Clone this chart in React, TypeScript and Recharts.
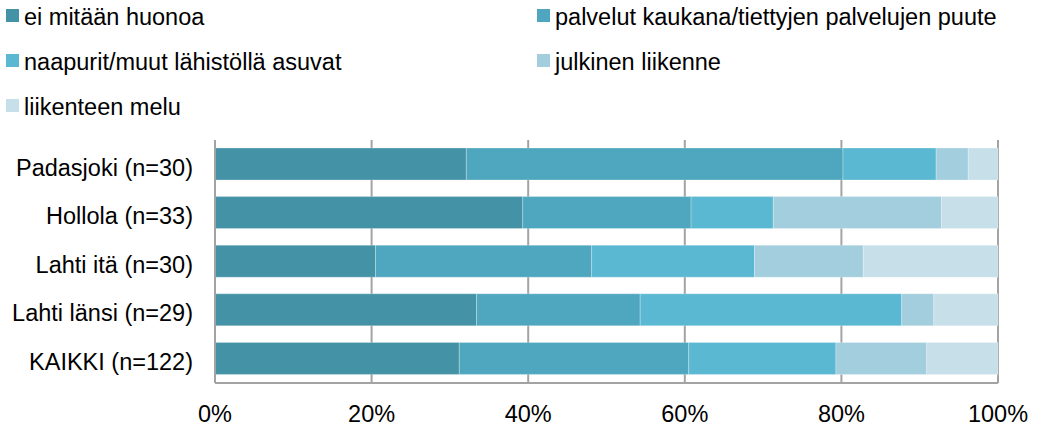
import { BarChart, Bar, XAxis, YAxis, CartesianGrid } from "recharts"

const CATEGORIES = ["Padasjoki (n=30)", "Hollola (n=33)", "Lahti itä (n=30)", "Lahti länsi (n=29)", "KAIKKI (n=122)"]

const EI_MITAAN = [32.1, 39.3, 20.5, 33.4, 31.2]
const PALVELUT = [48.1, 21.5, 27.6, 20.9, 29.3]
const NAAPURIT = [11.9, 10.5, 20.8, 33.4, 18.8]
const JULKINEN = [4.1, 21.5, 13.9, 4.1, 11.6]
const MELU = [3.8, 7.2, 17.2, 8.2, 9.1]

const X_TICKS = [0, 0.2, 0.4, 0.6, 0.8, 1]

const SERIES = [
  { key: "a", name: "ei mitään huonoa", color: "#4492a6", values: EI_MITAAN },
  { key: "b", name: "palvelut kaukana/tiettyjen palvelujen puute", color: "#4fa7bf", values: PALVELUT },
  { key: "c", name: "naapurit/muut lähistöllä asuvat", color: "#5bb8d2", values: NAAPURIT },
  { key: "d", name: "julkinen liikenne", color: "#a2cedd", values: JULKINEN },
  { key: "e", name: "liikenteen melu", color: "#c6dfe8", values: MELU },
]

const data = CATEGORIES.map((name, i) => {
  const row: any = { name }
  SERIES.forEach((s) => {
    row[s.key] = s.values[i]
  })
  return row
})

const FONT = '"Liberation Sans", Arial, sans-serif'
const FS = 23.5

// two-column legend: x of the swatch, text baseline
const LEGEND_POS = [
  { x: 6, base: 26 },
  { x: 537, base: 26 },
  { x: 6, base: 71 },
  { x: 537, base: 71 },
  { x: 6, base: 116 },
]

const CategoryTick = ({ x, y, payload }: any) => (
  <text x={x} y={y} dy={11.3} textAnchor="end" fill="#000" fontSize={FS} fontFamily={FONT}>
    {payload.value}
  </text>
)

export default function App() {
  return (
    <div style={{ position: "absolute", left: 0, top: 0, width: 1038, height: 427, background: "#fff", fontFamily: FONT }}>
      {SERIES.map((s, i) => (
        <div key={s.key}>
          <span
            style={{
              position: "absolute",
              left: LEGEND_POS[i].x,
              top: LEGEND_POS[i].base - 17,
              width: 13,
              height: 13,
              background: s.color,
            }}
          />
          <span
            style={{
              position: "absolute",
              left: LEGEND_POS[i].x + 18,
              top: LEGEND_POS[i].base - 20,
              fontSize: FS,
              lineHeight: 1,
              color: "#000",
              whiteSpace: "nowrap",
            }}
          >
            {s.name}
          </span>
        </div>
      ))}
      <div style={{ position: "absolute", left: 0, top: 0 }}>
        <BarChart
          width={1038}
          height={427}
          data={data}
          layout="vertical"
          stackOffset="expand"
          margin={{ top: 140, right: 40, bottom: 0, left: 0 }}
          barSize={32}
        >
          <CartesianGrid horizontal={false} stroke="#a3a3a3" strokeWidth={2} verticalValues={X_TICKS} />
          <XAxis
            type="number"
            domain={[0, 1]}
            ticks={X_TICKS}
            height={44}
            tickFormatter={(v) => `${Math.round(v * 100)}%`}
            axisLine={{ stroke: "#a3a3a3", strokeWidth: 2 }}
            tickLine={false}
            tickSize={0}
            tickMargin={22}
            tick={{ fill: "#000", fontSize: FS, fontFamily: FONT }}
            interval={0}
          />
          <YAxis
            type="category"
            dataKey="name"
            width={215}
            axisLine={{ stroke: "#a3a3a3", strokeWidth: 2 }}
            tickLine={false}
            tickSize={0}
            tickMargin={22}
            tick={<CategoryTick />}
            interval={0}
          />
          {SERIES.map((s) => (
            <Bar
              key={s.key}
              dataKey={s.key}
              name={s.name}
              stackId="1"
              fill={s.color}
              stroke="rgba(255,255,255,0.35)"
              strokeWidth={0.75}
              isAnimationActive={false}
            />
          ))}
        </BarChart>
      </div>
    </div>
  )
}
